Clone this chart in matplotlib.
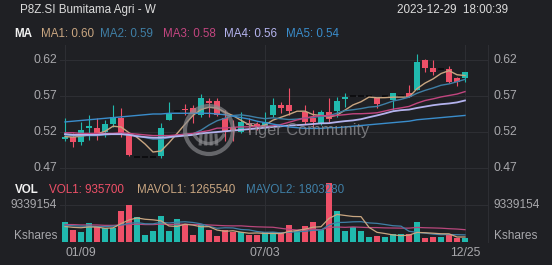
import matplotlib
matplotlib.use('Agg')
from matplotlib import pyplot as plt
from matplotlib.patches import Circle, Arc

plt.rcParams['font.family'] = ['Liberation Sans', 'DejaVu Sans']

W, H, DPI = 552, 265, 100

# weekly bars, week index 0 = 01/09 ... 50 = 12/25
tick_pos = [0, 25, 50]
tick_labels = ['01/09', '07/03', '12/25']
price_ticks = [0.47, 0.52, 0.57, 0.62]
vol_tick = 9339154

opens = [0.510, 0.5135, 0.5055, 0.5255, 0.525, 0.5195, 0.531, 0.539, 0.517, 0.485,
         0.485, 0.485, 0.487, 0.537, 0.549, 0.552, 0.553, 0.544, 0.5635, 0.563,
         0.540, 0.527, 0.520, 0.532, 0.531, 0.526, 0.544, 0.5575, 0.557, 0.5496,
         0.548, 0.540, 0.533, 0.548, 0.5496, 0.5655, 0.570, 0.570, 0.570, 0.5668,
         0.570, 0.5645, 0.5705, 0.5737, 0.578, 0.620, 0.609, 0.608, 0.6075, 0.5945,
         0.5945]
highs = [0.539, 0.519, 0.534, 0.5435, 0.539, 0.537, 0.557, 0.553, 0.518, 0.485,
         0.485, 0.485, 0.532, 0.561, 0.549, 0.559, 0.557, 0.573, 0.567, 0.567,
         0.551, 0.536, 0.548, 0.539, 0.534, 0.548, 0.567, 0.562, 0.5815, 0.5496,
         0.5575, 0.551, 0.551, 0.5668, 0.568, 0.5746, 0.570, 0.570, 0.570, 0.5668,
         0.570, 0.5737, 0.5705, 0.585, 0.629, 0.622, 0.620, 0.608, 0.612, 0.597,
         0.6035]
lows = [0.507, 0.4995, 0.502, 0.509, 0.509, 0.513, 0.527, 0.513, 0.487, 0.485,
        0.485, 0.485, 0.484, 0.536, 0.549, 0.544, 0.533, 0.541, 0.541, 0.542,
        0.507, 0.507, 0.518, 0.520, 0.523, 0.523, 0.541, 0.546, 0.5436, 0.5496,
        0.531, 0.525, 0.530, 0.534, 0.541, 0.555, 0.570, 0.570, 0.570, 0.554,
        0.570, 0.5506, 0.5705, 0.569, 0.578, 0.604, 0.599, 0.608, 0.5876, 0.584,
        0.589]
closes = [0.5135, 0.5055, 0.523, 0.528, 0.517, 0.531, 0.541, 0.518, 0.488, 0.485,
          0.485, 0.485, 0.525, 0.545, 0.549, 0.550, 0.546, 0.567, 0.560, 0.544,
          0.520, 0.523, 0.534, 0.530, 0.527, 0.534, 0.5575, 0.554, 0.5496, 0.5496,
          0.534, 0.534, 0.548, 0.5377, 0.5635, 0.569, 0.570, 0.570, 0.570, 0.5585,
          0.570, 0.5737, 0.5705, 0.569, 0.6177, 0.6085, 0.603, 0.608, 0.589, 0.589,
          0.603]

ma1 = [0.5135, 0.513, 0.514, 0.516, 0.5174, 0.5209, 0.528, 0.527, 0.519, 0.5126,
       0.5034, 0.4922, 0.4936, 0.505, 0.5178, 0.5308, 0.543, 0.5514, 0.5544, 0.5534,
       0.5474, 0.5428, 0.5362, 0.5302, 0.5268, 0.5296, 0.5365, 0.5405, 0.5444, 0.5489,
       0.5489, 0.5442, 0.543, 0.5407, 0.5434, 0.5504, 0.5576, 0.562, 0.5685, 0.5675,
       0.5677, 0.5684, 0.5685, 0.5683, 0.5802, 0.5879, 0.5937, 0.6012, 0.6052, 0.5995,
       0.5984]
ma2 = [0.516, 0.515, 0.515, 0.515, 0.515, 0.516, 0.517, 0.517, 0.516, 0.515,
       0.5122, 0.5101, 0.5103, 0.512, 0.5152, 0.5171, 0.5176, 0.5225, 0.5297, 0.5356,
       0.5391, 0.5429, 0.5438, 0.5423, 0.5401, 0.5385, 0.5397, 0.5384, 0.5373, 0.5379,
       0.5393, 0.5404, 0.5418, 0.5425, 0.5462, 0.5497, 0.5509, 0.5525, 0.5546, 0.5555,
       0.5591, 0.563, 0.5653, 0.5684, 0.5738, 0.5778, 0.5811, 0.5849, 0.5868, 0.5898,
       0.5931]
ma3 = [0.519, 0.519, 0.518, 0.518, 0.518, 0.518, 0.518, 0.519, 0.518, 0.517,
       0.516, 0.515, 0.515, 0.515, 0.516, 0.517, 0.518, 0.520, 0.522, 0.5253,
       0.5256, 0.5265, 0.5271, 0.5272, 0.5277, 0.5278, 0.5286, 0.5304, 0.5335, 0.5367,
       0.5392, 0.5416, 0.5428, 0.5424, 0.5431, 0.5441, 0.5453, 0.5454, 0.5459, 0.5467,
       0.5492, 0.5517, 0.5535, 0.5555, 0.560, 0.5637, 0.566, 0.5687, 0.5707, 0.5727,
       0.5761]
ma4 = [0.517, 0.516, 0.516, 0.516, 0.516, 0.517, 0.517, 0.517, 0.516, 0.514,
       0.513, 0.512, 0.512, 0.513, 0.514, 0.515, 0.516, 0.518, 0.519, 0.520,
       0.521, 0.522, 0.523, 0.524, 0.525, 0.526, 0.527, 0.528, 0.529, 0.5295,
       0.5302, 0.5311, 0.532, 0.5323, 0.5338, 0.5351, 0.5361, 0.5378, 0.5405, 0.543,
       0.5458, 0.5488, 0.5503, 0.5511, 0.5534, 0.5553, 0.5572, 0.5586, 0.5596, 0.5611,
       0.5638]
ma5 = [0.534, 0.535, 0.536, 0.537, 0.538, 0.539, 0.540, 0.541, 0.542, 0.543,
       0.544, 0.545, 0.545, 0.546, 0.546, 0.546, 0.546, 0.546, 0.546, 0.545,
       0.544, 0.542, 0.540, 0.538, 0.535, 0.533, 0.531, 0.529, 0.527, 0.526,
       0.525, 0.525, 0.525, 0.526, 0.526, 0.527, 0.528, 0.529, 0.530, 0.531,
       0.532, 0.533, 0.534, 0.535, 0.537, 0.538, 0.539, 0.540, 0.541, 0.542,
       0.543]

# volume in millions of shares
volume = [5.0, 3.0, 2.4, 4.7, 3.7, 3.5, 3.5, 7.8, 9.3, 6.3,
          1.8, 2.8, 6.5, 2.8, 5.7, 4.6, 1.7, 4.4, 3.0, 1.4,
          3.0, 2.4, 2.6, 1.7, 1.7, 2.4, 2.4, 2.4, 4.4, 2.8,
          4.1, 5.0, 3.0, 14.8, 7.9, 2.8, 3.7, 2.8, 1.3, 1.6,
          1.3, 1.9, 1.9, 1.9, 5.1, 0.9, 1.3, 1.2, 1.8, 1.1,
          0.9357]
mavol1 = [3.9, 3.7, 3.6, 3.8, 3.76, 3.46, 3.56, 4.64, 5.56, 6.08,
          5.74, 5.6, 5.34, 4.04, 3.92, 4.48, 4.26, 3.84, 3.88, 3.02,
          2.7, 2.84, 2.48, 2.22, 2.28, 2.16, 2.16, 2.12, 2.66, 2.88,
          3.22, 3.74, 3.86, 5.94, 6.96, 6.7, 6.44, 6.4, 3.7, 2.44,
          2.14, 1.78, 1.6, 1.72, 2.42, 2.34, 2.22, 2.08, 2.06, 1.26,
          1.2655]
mavol2 = [4.2, 4.1, 4.0, 4.0, 3.9, 3.9, 4.0, 4.3, 4.7, 4.92,
          4.6, 4.58, 4.99, 4.8, 5.0, 5.11, 4.93, 4.59, 3.96, 3.47,
          3.59, 3.55, 3.16, 3.05, 2.65, 2.43, 2.5, 2.3, 2.44, 2.58,
          2.69, 2.95, 2.99, 4.3, 4.92, 4.96, 5.09, 5.13, 4.82, 4.7,
          4.42, 4.11, 4.0, 2.71, 2.43, 2.24, 2.0, 1.84, 1.89, 1.84,
          1.8033]
mavol3 = [4.4, 4.4, 4.3, 4.3, 4.3, 4.2, 4.2, 4.3, 4.4, 4.5,
          4.4, 4.4, 4.5, 4.4, 4.5, 4.5, 4.4, 4.4, 4.3, 4.2,
          4.1, 4.07, 4.08, 3.93, 3.83, 3.77, 3.72, 3.45, 3.2, 3.03,
          3.14, 3.25, 3.08, 3.68, 3.79, 3.7, 3.8, 3.72, 3.63, 3.64,
          3.56, 3.53, 3.5, 3.5, 3.68, 3.6, 3.55, 3.49, 3.36, 3.27,
          3.11]

BG = '#1f2024'
GRID = '#2d2e33'
LABEL = '#a8a8ac'
UP = '#20b9ae'
DOWN = '#ee5068'
C_MA = ['#c9a681', '#3f7fa6', '#c2457f', '#b4b3ee', '#3a8dcc']
MA_LW = [1.0, 1.0, 1.0, 1.3, 1.0]


def fx(px):
    return px / W


def fy(py):
    return 1 - py / H


fig = plt.figure(figsize=(W / DPI, H / DPI), dpi=DPI, facecolor=BG)

L, R = 60, 488
ax = fig.add_axes([fx(L), fy(183), fx(R) - fx(L), fy(45) - fy(183)], facecolor=BG)
axv = fig.add_axes([fx(L), fy(242), fx(R) - fx(L), fy(183) - fy(242)], facecolor=BG)

x = list(range(len(closes)))
xlim = ((L - 65) / 8, (R - 65) / 8)

for a in (ax, axv):
    a.set_xlim(*xlim)
    a.set_xticks(tick_pos)
    a.tick_params(length=0, labelleft=False, labelbottom=False)
    for s in ('top', 'left', 'bottom'):
        a.spines[s].set_visible(False)
    a.spines['right'].set_color(GRID)
    a.grid(True, color=GRID, lw=0.8)
    a.set_axisbelow(True)

# price pane
ax.set_ylim(0.62 - 123 / 720, 0.62 + 15 / 720)
ax.set_yticks(price_ticks)
for i in x:
    o, h, l, c = opens[i], highs[i], lows[i], closes[i]
    if o == c == h == l:
        # unchanged weeks show as a short dark dash
        ax.hlines(c, i - 0.38, i + 0.38, color='#0c0c0e', lw=1.3, zorder=3)
        continue
    col = UP if c >= o else DOWN
    ax.vlines(i, l, h, color=col, lw=0.8, zorder=3)
    ax.bar(i, max(abs(c - o), 0.0013), bottom=min(o, c), width=0.72,
           color=col, zorder=3)

for ma, col, lw in zip([ma1, ma2, ma3, ma4, ma5], C_MA, MA_LW):
    ax.plot(x, ma, color=col, lw=lw, zorder=4)

for v in price_ticks:
    tr = ax.get_yaxis_transform()
    ax.text(-3 / (R - L), v, '%.2f' % v, transform=tr, ha='right', va='center',
            color=LABEL, fontsize=8.8)
    ax.text(1 + 6 / (R - L), v, '%.2f' % v, transform=tr, ha='left', va='center',
            color=LABEL, fontsize=8.8)

# volume pane
axv.set_ylim(0, vol_tick * 59 / 37)
axv.set_yticks([vol_tick])
vcols = [UP if closes[i] >= opens[i] else DOWN for i in x]
axv.bar(x, [v * 1e6 for v in volume], width=0.72, color=vcols, zorder=3)
axv.plot(x, [v * 1e6 for v in mavol3], color='#b8477c', lw=0.9, zorder=4)
axv.plot(x, [v * 1e6 for v in mavol2], color=C_MA[1], lw=0.9, zorder=4)
axv.plot(x, [v * 1e6 for v in mavol1], color=C_MA[0], lw=0.9, zorder=4)

tr = axv.get_yaxis_transform()
axv.text(-3 / (R - L), vol_tick, str(vol_tick), transform=tr, ha='right',
         va='center', color=LABEL, fontsize=8.6)
axv.text(1 + 6 / (R - L), vol_tick, str(vol_tick), transform=tr, ha='left',
         va='center', color=LABEL, fontsize=8.6)
fig.text(fx(57), fy(236), 'Kshares', ha='right', va='center', color=LABEL, fontsize=8.6)
fig.text(fx(494), fy(236), 'Kshares', ha='left', va='center', color=LABEL, fontsize=8.6)

# date labels
for pos, lab in zip(tick_pos, tick_labels):
    ha = 'left' if pos == tick_pos[0] else 'center'
    axv.text(pos, -11 / 59, lab, transform=axv.get_xaxis_transform(), ha=ha,
             va='center', color=LABEL, fontsize=8.8)

# header
fig.text(fx(20), fy(10), 'P8Z.SI Bumitama Agri - W', ha='left', va='center',
         color='#dcdcdc', fontsize=8.4)
fig.text(fx(508), fy(10), '2023-12-29  18:00:39', ha='right', va='center',
         color='#dcdcdc', fontsize=8.4)

fig.text(fx(14), fy(34), 'MA', ha='left', va='center', color='#f2f2f2',
         fontsize=8.4, fontweight='bold')
ma_text = ['MA1: 0.60', 'MA2: 0.59', 'MA3: 0.58', 'MA4: 0.56', 'MA5: 0.54']
for xp, t, col in zip([41, 100, 163, 224, 286], ma_text, C_MA):
    fig.text(fx(xp), fy(34), t, ha='left', va='center', color=col, fontsize=8.4)

fig.text(fx(15), fy(190), 'VOL', ha='left', va='center', color='#f2f2f2',
         fontsize=8.4, fontweight='bold', zorder=1)
for xp, t, col in zip([49, 137, 246], ['VOL1: 935700', 'MAVOL1: 1265540', 'MAVOL2: 1803280'],
                      [DOWN, C_MA[0], C_MA[1]]):
    fig.text(fx(xp), fy(190), t, ha='left', va='center', color=col, fontsize=8.4,
             zorder=1)

# watermark
wm = '#8c8c90'
cx, cy = 2.09, (H - 130) / DPI
fig.add_artist(Circle((cx, cy), 0.24, transform=fig.dpi_scale_trans, fill=False,
                      ec=wm, lw=3.0, alpha=0.65, zorder=10))
fig.add_artist(Arc((cx, cy + 0.02), 0.33, 0.31, theta1=200, theta2=340,
                   transform=fig.dpi_scale_trans, ec=wm, lw=2.4, alpha=0.65, zorder=10))
for dx in (-0.08, -0.03, 0.02, 0.07):
    fig.add_artist(plt.Line2D([cx + dx, cx + dx * 1.1], [cy - 0.05, cy - 0.14],
                              transform=fig.dpi_scale_trans, color=wm, lw=2.2,
                              alpha=0.65, zorder=10))
fig.text(fx(245), fy(131), 'Tiger Community', ha='left', va='center', color=wm,
         alpha=0.8, fontsize=11.8, zorder=10)

fig.savefig('out.png', dpi=DPI, facecolor=BG)
